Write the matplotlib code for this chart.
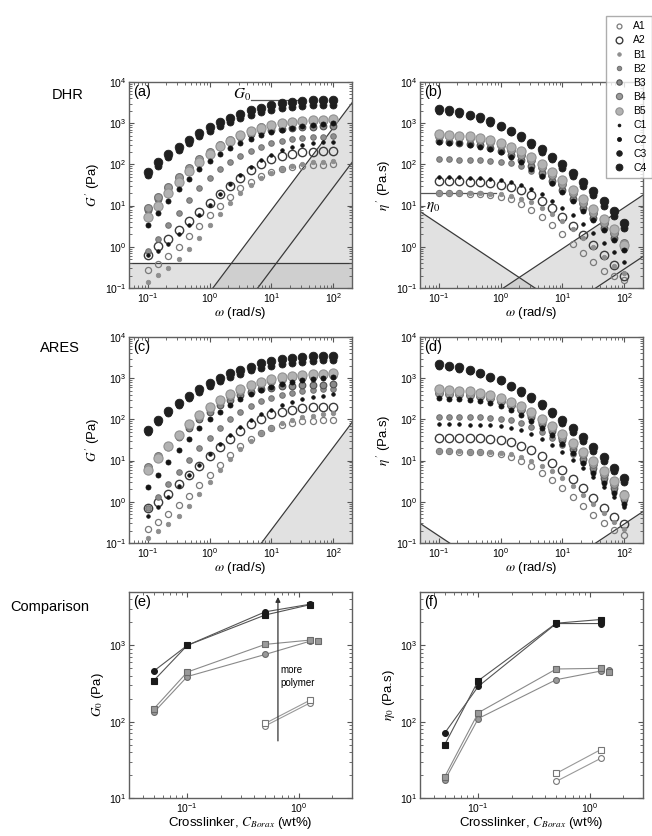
import numpy as np
import matplotlib
matplotlib.use('Agg')
import matplotlib.pyplot as plt
from matplotlib import ticker
from matplotlib.lines import Line2D

plt.rcParams['font.family'] = 'Liberation Sans'
plt.rcParams['mathtext.fontset'] = 'stix'
plt.rcParams['font.size'] = 7

# ---------------------------------------------------------------- data
omega = [0.1, 0.147, 0.215, 0.316, 0.464, 0.681, 1.0, 1.47, 2.15, 3.16,
         4.64, 6.81, 10.0, 14.7, 21.5, 31.6, 46.4, 68.1, 100.0]
samples = ['A1', 'A2', 'B1', 'B2', 'B3', 'B4', 'B5', 'C1', 'C2', 'C3', 'C4']

# log10 G' (Pa), DHR, one row per sample
logG_dhr = [
    [-0.57, -0.42, -0.22, 0.00, 0.25, 0.50, 0.76, 1.00, 1.22, 1.42, 1.58, 1.72, 1.82, 1.89, 1.94, 1.97, 1.98, 1.99, 2.00],
    [-0.20, 0.02, 0.20, 0.40, 0.62, 0.85, 1.06, 1.28, 1.48, 1.68, 1.87, 2.02, 2.13, 2.21, 2.26, 2.29, 2.31, 2.32, 2.33],
    [-0.85, -0.68, -0.52, -0.30, -0.05, 0.22, 0.52, 0.80, 1.06, 1.30, 1.50, 1.67, 1.80, 1.90, 1.97, 2.02, 2.05, 2.07, 2.08],
    [-0.10, 0.20, 0.52, 0.83, 1.13, 1.42, 1.66, 1.88, 2.06, 2.20, 2.33, 2.43, 2.51, 2.57, 2.61, 2.64, 2.66, 2.67, 2.68],
    [0.90, 1.16, 1.42, 1.66, 1.88, 2.08, 2.26, 2.42, 2.55, 2.66, 2.74, 2.80, 2.84, 2.87, 2.89, 2.90, 2.91, 2.92, 2.92],
    [0.95, 1.20, 1.45, 1.70, 1.92, 2.12, 2.30, 2.46, 2.60, 2.72, 2.82, 2.90, 2.96, 3.00, 3.03, 3.05, 3.06, 3.07, 3.07],
    [0.73, 1.00, 1.30, 1.58, 1.84, 2.06, 2.26, 2.44, 2.58, 2.71, 2.81, 2.89, 2.95, 3.00, 3.03, 3.06, 3.07, 3.08, 3.09],
    [-0.20, -0.10, 0.08, 0.30, 0.52, 0.78, 1.02, 1.28, 1.52, 1.74, 1.93, 2.10, 2.24, 2.35, 2.43, 2.48, 2.52, 2.54, 2.55],
    [0.52, 0.82, 1.12, 1.40, 1.65, 1.88, 2.08, 2.25, 2.40, 2.52, 2.62, 2.71, 2.78, 2.84, 2.89, 2.93, 2.96, 2.98, 3.00],
    [1.74, 1.97, 2.18, 2.36, 2.53, 2.69, 2.82, 2.94, 3.04, 3.13, 3.21, 3.27, 3.32, 3.36, 3.39, 3.41, 3.43, 3.44, 3.45],
    [1.82, 2.05, 2.25, 2.42, 2.60, 2.76, 2.90, 3.02, 3.13, 3.23, 3.31, 3.38, 3.44, 3.49, 3.52, 3.54, 3.56, 3.57, 3.57],
]

# log10 eta' (Pa.s), DHR
logEta_dhr = [
    [1.31, 1.31, 1.30, 1.29, 1.28, 1.26, 1.22, 1.15, 1.05, 0.90, 0.72, 0.52, 0.30, 0.07, -0.16, -0.38, -0.58, -0.72, -0.81],
    [1.60, 1.60, 1.59, 1.58, 1.57, 1.55, 1.51, 1.45, 1.37, 1.25, 1.10, 0.93, 0.73, 0.51, 0.28, 0.04, -0.20, -0.45, -0.70],
    [1.31, 1.31, 1.31, 1.30, 1.30, 1.29, 1.27, 1.23, 1.17, 1.08, 0.95, 0.80, 0.62, 0.42, 0.21, -0.01, -0.24, -0.46, -0.64],
    [2.12, 2.12, 2.11, 2.11, 2.10, 2.09, 2.07, 2.03, 1.96, 1.85, 1.72, 1.56, 1.37, 1.16, 0.94, 0.70, 0.46, 0.22, -0.02],
    [2.56, 2.55, 2.53, 2.50, 2.46, 2.40, 2.32, 2.22, 2.10, 1.96, 1.79, 1.60, 1.39, 1.17, 0.93, 0.69, 0.45, 0.22, -0.02],
    [2.70, 2.69, 2.67, 2.64, 2.60, 2.54, 2.46, 2.36, 2.24, 2.10, 1.93, 1.74, 1.53, 1.31, 1.07, 0.83, 0.58, 0.34, 0.10],
    [2.73, 2.72, 2.70, 2.68, 2.64, 2.59, 2.52, 2.43, 2.32, 2.18, 2.01, 1.82, 1.61, 1.39, 1.16, 0.92, 0.68, 0.44, 0.05],
    [1.70, 1.70, 1.69, 1.68, 1.67, 1.65, 1.62, 1.57, 1.50, 1.40, 1.27, 1.12, 0.95, 0.76, 0.55, 0.33, 0.10, -0.13, -0.36],
    [2.54, 2.53, 2.51, 2.48, 2.43, 2.37, 2.29, 2.18, 2.05, 1.90, 1.73, 1.54, 1.33, 1.11, 0.88, 0.64, 0.40, 0.16, -0.08],
    [3.30, 3.27, 3.23, 3.17, 3.10, 3.01, 2.90, 2.78, 2.63, 2.48, 2.31, 2.12, 1.92, 1.71, 1.48, 1.25, 1.00, 0.74, 0.46],
    [3.34, 3.31, 3.27, 3.21, 3.14, 3.05, 2.94, 2.82, 2.68, 2.53, 2.37, 2.19, 2.00, 1.80, 1.58, 1.36, 1.12, 0.86, 0.58],
]

# log10 G' (Pa), ARES
logG_ares = [
    [-0.66, -0.50, -0.30, -0.08, 0.15, 0.40, 0.65, 0.90, 1.13, 1.35, 1.53, 1.68, 1.79, 1.87, 1.92, 1.95, 1.97, 1.98, 1.99],
    [-0.15, 0.00, 0.20, 0.42, 0.65, 0.88, 1.10, 1.32, 1.52, 1.71, 1.88, 2.02, 2.12, 2.19, 2.24, 2.27, 2.29, 2.30, 2.31],
    [-0.89, -0.72, -0.55, -0.35, -0.10, 0.18, 0.48, 0.76, 1.03, 1.27, 1.48, 1.66, 1.80, 1.91, 1.99, 2.05, 2.09, 2.12, 2.16],
    [-0.15, 0.12, 0.42, 0.72, 1.01, 1.30, 1.56, 1.80, 2.00, 2.18, 2.32, 2.44, 2.53, 2.60, 2.65, 2.69, 2.71, 2.73, 2.74],
    [0.82, 1.06, 1.32, 1.57, 1.80, 2.01, 2.19, 2.35, 2.48, 2.59, 2.67, 2.73, 2.77, 2.80, 2.82, 2.83, 2.84, 2.84, 2.85],
    [0.85, 1.10, 1.36, 1.62, 1.86, 2.08, 2.27, 2.44, 2.58, 2.70, 2.80, 2.88, 2.94, 2.99, 3.02, 3.04, 3.06, 3.07, 3.08],
    [0.77, 1.07, 1.36, 1.63, 1.88, 2.10, 2.30, 2.47, 2.61, 2.73, 2.83, 2.91, 2.97, 3.02, 3.05, 3.08, 3.10, 3.11, 3.12],
    [-0.35, -0.12, 0.12, 0.38, 0.64, 0.90, 1.15, 1.40, 1.62, 1.82, 1.98, 2.12, 2.24, 2.34, 2.42, 2.49, 2.54, 2.58, 2.62],
    [0.36, 0.65, 0.96, 1.26, 1.53, 1.78, 2.00, 2.19, 2.35, 2.49, 2.61, 2.71, 2.79, 2.86, 2.91, 2.95, 2.98, 3.00, 3.02],
    [1.70, 1.94, 2.15, 2.34, 2.51, 2.66, 2.80, 2.92, 3.02, 3.11, 3.19, 3.25, 3.30, 3.34, 3.37, 3.40, 3.42, 3.43, 3.44],
    [1.74, 1.99, 2.20, 2.39, 2.58, 2.75, 2.89, 3.01, 3.12, 3.20, 3.28, 3.36, 3.42, 3.47, 3.50, 3.52, 3.54, 3.55, 3.55],
]

# log10 eta' (Pa.s), ARES
logEta_ares = [
    [1.23, 1.23, 1.22, 1.22, 1.21, 1.19, 1.15, 1.09, 1.00, 0.87, 0.71, 0.53, 0.33, 0.12, -0.10, -0.32, -0.52, -0.68, -0.81],
    [1.56, 1.56, 1.55, 1.55, 1.54, 1.52, 1.49, 1.44, 1.36, 1.25, 1.11, 0.95, 0.76, 0.55, 0.33, 0.10, -0.14, -0.38, -0.55],
    [1.23, 1.23, 1.23, 1.22, 1.22, 1.21, 1.19, 1.15, 1.09, 1.00, 0.88, 0.74, 0.57, 0.38, 0.17, -0.05, -0.27, -0.48, -0.66],
    [2.07, 2.07, 2.06, 2.06, 2.05, 2.04, 2.02, 1.98, 1.92, 1.82, 1.70, 1.55, 1.37, 1.17, 0.96, 0.74, 0.51, 0.27, 0.03],
    [2.68, 2.67, 2.65, 2.62, 2.58, 2.52, 2.44, 2.34, 2.22, 2.07, 1.90, 1.71, 1.50, 1.28, 1.05, 0.81, 0.57, 0.33, 0.08],
    [2.63, 2.62, 2.61, 2.59, 2.56, 2.51, 2.45, 2.36, 2.25, 2.12, 1.96, 1.78, 1.58, 1.37, 1.15, 0.92, 0.68, 0.44, 0.20],
    [2.73, 2.72, 2.70, 2.68, 2.64, 2.59, 2.52, 2.43, 2.32, 2.18, 2.02, 1.84, 1.64, 1.43, 1.21, 0.98, 0.74, 0.50, 0.16],
    [1.88, 1.88, 1.88, 1.87, 1.87, 1.86, 1.84, 1.80, 1.74, 1.65, 1.53, 1.38, 1.21, 1.02, 0.81, 0.59, 0.36, 0.12, -0.12],
    [2.51, 2.50, 2.49, 2.47, 2.44, 2.39, 2.32, 2.23, 2.11, 1.97, 1.80, 1.61, 1.40, 1.18, 0.95, 0.71, 0.46, 0.21, -0.05],
    [3.30, 3.27, 3.23, 3.17, 3.09, 3.01, 2.92, 2.79, 2.65, 2.50, 2.32, 2.13, 1.92, 1.70, 1.48, 1.24, 0.99, 0.74, 0.48],
    [3.34, 3.30, 3.26, 3.20, 3.12, 3.04, 2.96, 2.82, 2.69, 2.55, 2.37, 2.19, 1.99, 1.78, 1.57, 1.33, 1.08, 0.83, 0.58],
]

# plateau modulus / zero-shear viscosity vs crosslinker (wt%)
c_borax = [0.05, 0.1, 0.5, 1.25]
c_borax_A = [0.5, 1.25]
c_borax_B5 = [1.5]
G0_C_dhr = [460, 1000, 2750, 3450]
G0_C_ares = [345, 1000, 2500, 3400]
G0_B_dhr = [132, 390, 760, 1130]
G0_B_ares = [147, 447, 1030, 1170]
G0_A_dhr = [88, 175]
G0_A_ares = [95, 190]
G0_B5_dhr = [1130]
G0_B5_ares = [1150]
eta0_C_dhr = [71, 290, 1930, 1930]
eta0_C_ares = [50, 345, 1950, 2180]
eta0_B_dhr = [17, 110, 355, 460]
eta0_B_ares = [19, 131, 490, 500]
eta0_A_dhr = [16.5, 33]
eta0_A_ares = [21, 43]
eta0_B5_dhr = [480]
eta0_B5_ares = [445]

# measurement window limits
G_min_dhr = 0.41          # low-torque limit on G'
k_inert_dhr = 0.078       # G' = k w^2 (inertia)
k_inert2_dhr = 0.00278
k_inert_ares = 0.0021
k_torque_dhr = 0.36       # eta' = k / w
k_torque_ares = 0.015
k_eta_inert_dhr = 0.09    # eta' = k w
k_eta_inert2 = 0.0029

# ---------------------------------------------------------------- styles
MARK = {  # size (pt), face, edge, edge width
    'A1': (4.4, 'none', '#7a7a7a', 0.9),
    'A2': (6.0, 'none', '#3c3c3c', 1.0),
    'B1': (3.2, '#8e8e8e', '#8e8e8e', 0.6),
    'B2': (4.0, '#8e8e8e', '#707070', 0.7),
    'B3': (4.8, '#8a8a8a', '#505050', 0.8),
    'B4': (5.6, '#9c9c9c', '#6e6e6e', 0.8),
    'B5': (6.6, '#b2b2b2', '#929292', 0.8),
    'C1': (2.6, '#141414', '#141414', 0.5),
    'C2': (3.6, '#141414', '#141414', 0.6),
    'C3': (5.0, '#1e1e1e', '#1e1e1e', 0.6),
    'C4': (6.2, '#202020', '#202020', 0.6),
}
FILL = '#b4b4b4'
LIMIT_LINE = '#3a3a3a'
W, H = 652, 836

fig = plt.figure(figsize=(W / 100, H / 100), dpi=100)


def add_ax(l, t, r, b):
    return fig.add_axes([l / W, 1 - b / H, (r - l) / W, (b - t) / H])


def style(ax, xlim, ylim):
    ax.set_xscale('log')
    ax.set_yscale('log')
    ax.set_xlim(*xlim)
    ax.set_ylim(*ylim)
    ax.xaxis.set_major_locator(ticker.LogLocator(base=10, numticks=12))
    ax.yaxis.set_major_locator(ticker.LogLocator(base=10, numticks=12))
    ax.xaxis.set_minor_locator(ticker.LogLocator(base=10, subs=np.arange(2, 10), numticks=12))
    ax.yaxis.set_minor_locator(ticker.LogLocator(base=10, subs=np.arange(2, 10), numticks=12))
    ax.xaxis.set_minor_formatter(ticker.NullFormatter())
    ax.yaxis.set_minor_formatter(ticker.NullFormatter())
    ax.tick_params(which='both', direction='in', top=True, right=True,
                   color='#555555', labelsize=7.5, pad=2)
    ax.tick_params(which='major', length=3.5, width=0.8)
    ax.tick_params(which='minor', length=2, width=0.6)
    for s in ax.spines.values():
        s.set_color('#606060')
        s.set_linewidth(1.0)


def sweep(ax, table):
    for name, vals in zip(samples, table):
        ms, fc, ec, mew = MARK[name]
        ax.plot(omega, 10 ** np.array(vals), ls='none', marker='o', ms=ms,
                mfc=fc, mec=ec, mew=mew, zorder=3)


def limit(ax, k, p, fill=True):
    w = np.array([0.03, 300.0])
    y = k * w ** p
    if fill:
        ax.fill_between(w, 1e-3, y, color=FILL, alpha=0.4, lw=0, zorder=0.5)
    ax.plot(w, y, color=LIMIT_LINE, lw=0.9, zorder=1)


wlim = (0.05, 200)
ylim_sweep = (0.1, 1e4)
LAB = 9.5

# (a) G' DHR
ax_a = add_ax(129, 82, 352, 288)
style(ax_a, wlim, ylim_sweep)
ax_a.fill_between(wlim, 1e-3, G_min_dhr, color=FILL, alpha=0.4, lw=0, zorder=0.5)
ax_a.axhline(G_min_dhr, color=LIMIT_LINE, lw=0.9, zorder=1)
limit(ax_a, k_inert_dhr, 2)
limit(ax_a, k_inert2_dhr, 2, fill=False)
sweep(ax_a, logG_dhr)
ax_a.plot([4.7, 30], [3600, 3600], color='#555555', lw=0.9, zorder=2)
ax_a.text(4.6, 3800, r'$G_0$', fontsize=11, ha='right', va='baseline')
ax_a.set_ylabel(r"$G\,'$ (Pa)", fontsize=LAB, labelpad=2)
ax_a.set_xlabel(r'$\omega$ (rad/s)', fontsize=LAB, labelpad=0)

# (b) eta' DHR
ax_b = add_ax(420, 82, 643, 288)
style(ax_b, wlim, ylim_sweep)
limit(ax_b, k_torque_dhr, -1)
limit(ax_b, k_eta_inert_dhr, 1)
limit(ax_b, k_eta_inert2, 1, fill=False)
sweep(ax_b, logEta_dhr)
ax_b.plot([0.05, 0.85], [20, 20], color='#555555', lw=0.9, zorder=2)
ax_b.text(0.062, 9, r'$\eta_0$', fontsize=11, ha='left', va='center')
ax_b.set_ylabel(r"$\eta\,'$ (Pa.s)", fontsize=LAB, labelpad=2)
ax_b.set_xlabel(r'$\omega$ (rad/s)', fontsize=LAB, labelpad=0)

# (c) G' ARES
ax_c = add_ax(129, 337, 352, 543)
style(ax_c, wlim, ylim_sweep)
limit(ax_c, k_inert_ares, 2)
sweep(ax_c, logG_ares)
ax_c.set_ylabel(r"$G\,'$ (Pa)", fontsize=LAB, labelpad=2)
ax_c.set_xlabel(r'$\omega$ (rad/s)', fontsize=LAB, labelpad=0)

# (d) eta' ARES
ax_d = add_ax(420, 337, 643, 543)
style(ax_d, wlim, ylim_sweep)
limit(ax_d, k_torque_ares, -1)
limit(ax_d, k_eta_inert2, 1)
sweep(ax_d, logEta_ares)
ax_d.set_ylabel(r"$\eta\,'$ (Pa.s)", fontsize=LAB, labelpad=2)
ax_d.set_xlabel(r'$\omega$ (rad/s)', fontsize=LAB, labelpad=0)


def comparison(ax, xs, ys, face, edge, line, marker):
    ax.plot(xs, ys, color=line, lw=0.8, marker=marker, ms=4.2, mfc=face,
            mec=edge, mew=0.8, zorder=3)


clim = (0.03, 3)
ylim_cmp = (10, 5000)

# (e) G0 comparison
ax_e = add_ax(129, 592, 352, 798)
style(ax_e, clim, ylim_cmp)
comparison(ax_e, c_borax, G0_C_dhr, '#1a1a1a', '#1a1a1a', '#555555', 'o')
comparison(ax_e, c_borax, G0_C_ares, '#1a1a1a', '#1a1a1a', '#555555', 's')
comparison(ax_e, c_borax, G0_B_dhr, '#9a9a9a', '#6a6a6a', '#8a8a8a', 'o')
comparison(ax_e, c_borax, G0_B_ares, '#9a9a9a', '#6a6a6a', '#8a8a8a', 's')
comparison(ax_e, c_borax_A, G0_A_dhr, 'white', '#777777', '#999999', 'o')
comparison(ax_e, c_borax_A, G0_A_ares, 'white', '#777777', '#999999', 's')
comparison(ax_e, c_borax_B5, G0_B5_dhr, '#9a9a9a', '#6a6a6a', '#8a8a8a', 'o')
comparison(ax_e, c_borax_B5, G0_B5_ares, '#9a9a9a', '#6a6a6a', '#8a8a8a', 's')
ax_e.annotate('', xy=(0.65, 4300), xytext=(0.65, 56),
              arrowprops=dict(arrowstyle='-|>', color='#333333', lw=0.9,
                              mutation_scale=7, shrinkA=0, shrinkB=0))
ax_e.text(0.69, 390, 'more\npolymer', fontsize=7, ha='left', va='center',
          linespacing=1.3)
ax_e.set_ylabel(r'$G_0$ (Pa)', fontsize=LAB, labelpad=2)
ax_e.set_xlabel(r'Crosslinker, $C_{Borax}$ (wt%)', fontsize=LAB, labelpad=0)

# (f) eta0 comparison
ax_f = add_ax(420, 592, 643, 798)
style(ax_f, clim, ylim_cmp)
comparison(ax_f, c_borax, eta0_C_dhr, '#1a1a1a', '#1a1a1a', '#555555', 'o')
comparison(ax_f, c_borax, eta0_C_ares, '#1a1a1a', '#1a1a1a', '#555555', 's')
comparison(ax_f, c_borax, eta0_B_dhr, '#9a9a9a', '#6a6a6a', '#8a8a8a', 'o')
comparison(ax_f, c_borax, eta0_B_ares, '#9a9a9a', '#6a6a6a', '#8a8a8a', 's')
comparison(ax_f, c_borax_A, eta0_A_dhr, 'white', '#777777', '#999999', 'o')
comparison(ax_f, c_borax_A, eta0_A_ares, 'white', '#777777', '#999999', 's')
comparison(ax_f, c_borax_B5, eta0_B5_dhr, '#9a9a9a', '#6a6a6a', '#8a8a8a', 'o')
comparison(ax_f, c_borax_B5, eta0_B5_ares, '#9a9a9a', '#6a6a6a', '#8a8a8a', 's')
ax_f.set_ylabel(r'$\eta_0$ (Pa.s)', fontsize=LAB, labelpad=2)
ax_f.set_xlabel(r'Crosslinker, $C_{Borax}$ (wt%)', fontsize=LAB, labelpad=0)

for ax, tag in zip([ax_a, ax_b, ax_c, ax_d, ax_e, ax_f], 'abcdef'):
    ax.text(0.02, 0.985, f'({tag})', transform=ax.transAxes, fontsize=10.5,
            ha='left', va='top')

# row titles
fig.text(52 / W, 1 - 95 / H, 'DHR', fontsize=10.5, ha='left', va='center')
fig.text(40 / W, 1 - 348 / H, 'ARES', fontsize=10.5, ha='left', va='center')
fig.text(10 / W, 1 - 607 / H, 'Comparison', fontsize=10.5, ha='left', va='center')

# sample legend
handles = []
for name in samples:
    ms, fc, ec, mew = MARK[name]
    handles.append(Line2D([], [], ls='none', marker='o', ms=ms, mfc=fc,
                          mec=ec, mew=mew, label=name))
fig.legend(handles=handles, loc='upper left',
           bbox_to_anchor=(606 / W, 1 - 16 / H), frameon=True, fancybox=False,
           edgecolor='#999999', fontsize=7.5, markerscale=0.8, labelspacing=0.4,
           handlelength=1.4, handletextpad=0.7, borderpad=0.5, borderaxespad=0)

fig.savefig('out.png', dpi=100)
